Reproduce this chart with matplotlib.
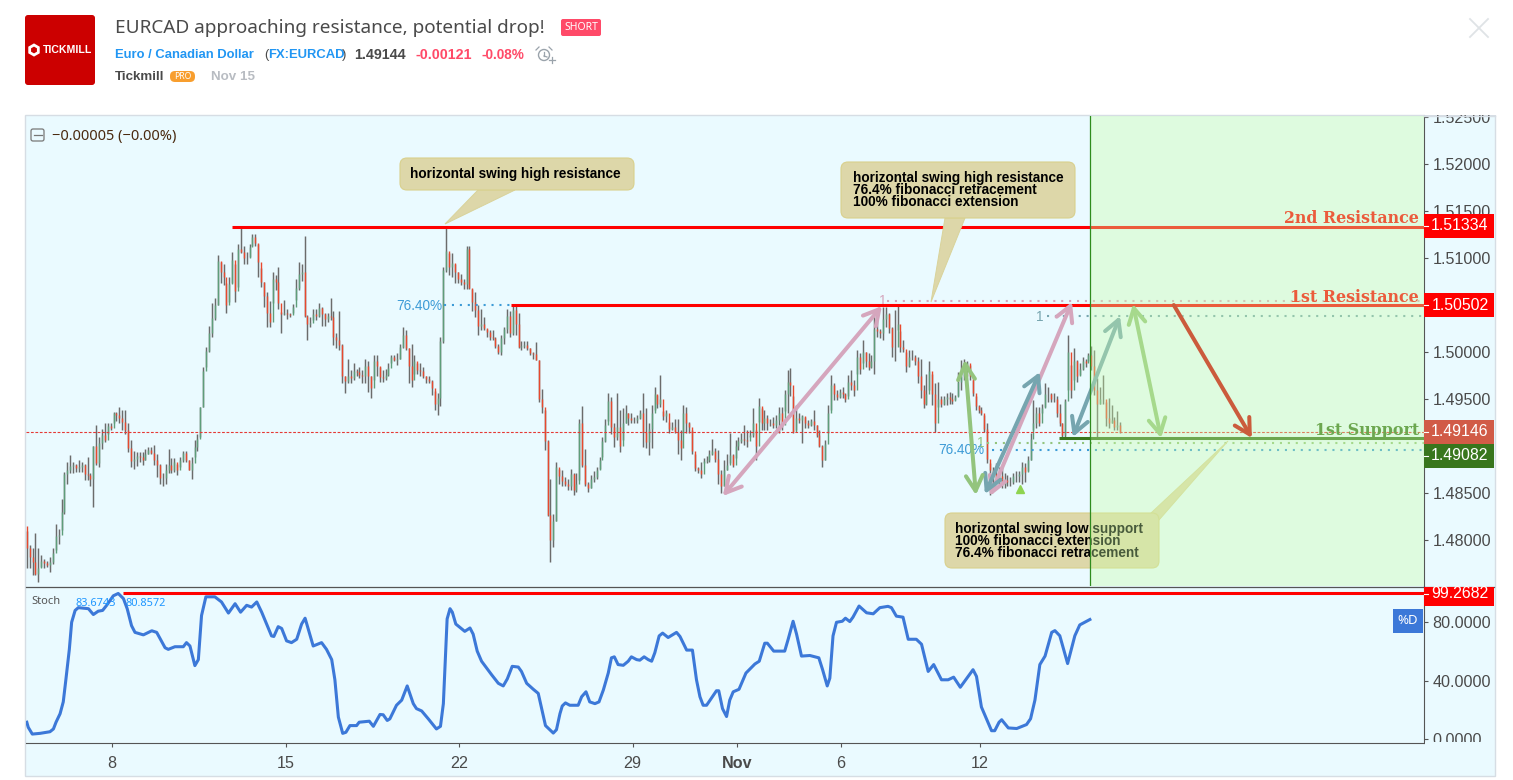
import numpy as np
import matplotlib
matplotlib.use('Agg')
import matplotlib.pyplot as plt
from matplotlib.patches import Rectangle, FancyBboxPatch, Polygon, Circle, RegularPolygon
from matplotlib.lines import Line2D
from matplotlib.transforms import Affine2D

plt.rcParams['font.family'] = 'Liberation Sans'

# 2h EURCAD bars, prices in 1/10000, one row = one trading day
bar_high = [
    14810,14795,14792,14807,14792,14784,14780,14778,14782,14791,14817,14812,
    14844,14872,14883,14890,14883,14881,14885,14883,14881,14888,14871,14900,
    14922,14910,14918,14924,14924,14924,14936,14936,14941,14938,14938,14924,
    14906,14895,14894,14894,14894,14897,14899,14899,14901,14892,14881,14871,
    14881,14897,14887,14887,14881,14888,14895,14895,14885,14888,14906,14913,
    14942,14984,15005,15028,15052,15057,15103,15096,15094,15073,15080,15106,
    15094,15115,15133,15113,15106,15115,15126,15126,15115,15089,15075,15064,
    15054,15085,15082,15090,15043,15055,15046,15042,15051,15078,15096,15094,
    15123,15039,15037,15046,15046,15052,15048,15041,15041,15057,15044,15020,
    15044,15009,14974,14993,14981,14988,14982,14984,14981,14993,14990,14974,
    14997,14997,14984,14981,14982,14988,14997,14997,14999,15009,15027,15023,
    15004,15009,14997,14988,14988,14984,14975,14974,14970,14959,14956,15016,
    15090,15133,15105,15105,15094,15085,15083,15078,15113,15113,15067,15064,
    15050,15046,15037,15025,15023,15023,15016,15009,15018,15027,15046,15044,
    15050,15051,15041,15012,15012,15012,15004,15000,15011,14991,14961,14938,
    14906,14865,14828,14883,14876,14874,14867,14865,14876,14871,14871,14929,
    14943,14897,14862,14869,14873,14878,14888,14910,14929,14956,14952,14925,
    14956,14938,14940,14944,14935,14935,14931,14933,14938,14956,14940,14924,
    14944,14963,14954,14976,14937,14938,14926,14926,14929,14929,14917,14944,
    14942,14926,14917,14892,14878,14883,14887,14889,14896,14908,14898,14896,
    14874,14885,14892,14914,14892,14906,14910,14914,14922,14917,14917,14940,
    14917,14951,14940,14938,14933,14929,14931,14933,14942,14942,14960,14981,
    14983,14953,14944,14935,14933,14931,14928,14929,14938,14922,14917,14901,
    14906,14944,14976,14967,14960,14961,14963,14956,14976,14981,14970,15002,
    14999,15013,15000,14999,14997,15038,15041,15025,15048,15048,15041,15027,
    15045,15050,15022,15013,15000,15002,15002,14997,14995,14993,14965,14977,
    14990,14977,14967,14968,14953,14953,14956,14958,14956,14954,14979,14991,
    14993,14990,14986,14970,14953,14944,14942,14933,14924,14882,14878,14882,
    14878,14878,14871,14869,14867,14871,14873,14873,14883,14882,14889,14914,
    14949,14942,14942,14945,14967,14963,14956,14956,14953,14945,14924,14950,
    15018,14986,15004,14991,14988,14995,14993,14999,15006,15002,14972,14963,
    14976,14947,14951,14944,14931,14937,14926,
]
bar_low = [
    14770,14770,14763,14763,14755,14771,14770,14771,14766,14775,14789,14796,
    14811,14828,14860,14871,14871,14872,14872,14872,14864,14864,14857,14835,
    14880,14878,14897,14904,14913,14917,14925,14927,14925,14917,14913,14894,
    14878,14876,14879,14883,14880,14885,14892,14892,14880,14867,14860,14857,
    14860,14871,14871,14872,14869,14878,14883,14883,14874,14865,14888,14895,
    14910,14941,14984,15000,15016,15034,15050,15073,15071,15041,15053,15073,
    15053,15069,15105,15094,15094,15101,15113,15113,15080,15069,15048,15027,
    15027,15052,15066,15046,15020,15039,15035,15037,15041,15055,15066,15076,
    15037,15013,15027,15034,15034,15037,15028,15028,15032,15034,15007,15004,
    15002,14967,14956,14967,14967,14970,14974,14972,14967,14967,14958,14951,
    14970,14974,14968,14968,14970,14974,14988,14990,14986,14993,15004,15002,
    14967,14963,14977,14977,14975,14972,14967,14967,14954,14938,14933,14943,
    15010,15085,15082,15080,15073,15073,15071,15067,15067,15067,15044,15037,
    15018,15023,15023,15016,15013,15013,15004,14998,14997,15009,15020,15016,
    15018,15018,15004,15002,15004,15002,14997,14993,14991,14947,14935,14896,
    14826,14777,14793,14820,14860,14857,14857,14853,14853,14848,14851,14864,
    14878,14857,14851,14855,14862,14865,14876,14888,14904,14927,14913,14899,
    14906,14894,14906,14924,14922,14924,14924,14924,14929,14899,14898,14890,
    14898,14938,14940,14942,14928,14926,14914,14917,14914,14892,14885,14914,
    14914,14914,14892,14873,14871,14866,14882,14882,14883,14890,14883,14860,
    14850,14857,14875,14882,14878,14887,14896,14903,14901,14899,14910,14910,
    14885,14926,14917,14917,14917,14921,14919,14919,14914,14917,14937,14935,
    14953,14914,14917,14924,14903,14919,14919,14921,14917,14910,14899,14878,
    14885,14914,14938,14949,14949,14951,14951,14947,14953,14960,14953,14977,
    14977,14988,14984,14981,14983,14977,15016,15015,15013,15027,15020,14995,
    14990,15023,15000,15000,14979,14984,14992,14986,14967,14951,14940,14944,
    14960,14944,14915,14942,14942,14944,14944,14945,14945,14949,14953,14960,
    14970,14974,14970,14953,14938,14935,14933,14915,14882,14848,14857,14860,
    14857,14855,14855,14857,14857,14860,14862,14862,14860,14862,14873,14885,
    14917,14919,14921,14935,14942,14947,14947,14947,14931,14921,14910,14908,
    14960,14951,14970,14968,14976,14981,14984,14990,14981,14954,14908,14945,
    14945,14921,14919,14924,14917,14917,14914,
]
bar_close = [
    14791,14782,14777,14764,14770,14778,14776,14773,14777,14786,14804,14805,
    14830,14870,14875,14879,14880,14877,14878,14880,14870,14869,14865,14900,
    14882,14903,14912,14906,14921,14919,14935,14933,14930,14926,14917,14898,
    14884,14886,14889,14888,14885,14892,14896,14893,14885,14880,14866,14866,
    14875,14880,14875,14883,14874,14885,14893,14885,14875,14882,14899,14908,
    14942,14980,15001,15020,15036,15050,15097,15085,15080,15050,15072,15098,
    15065,15110,15106,15100,15100,15112,15122,15116,15096,15075,15060,15042,
    15032,15078,15075,15052,15040,15041,15040,15039,15048,15068,15083,15085,
    15038,15030,15031,15040,15038,15047,15040,15035,15038,15037,15016,15013,
    15008,14975,14969,14975,14972,14980,14979,14976,14975,14985,14975,14962,
    14990,14985,14973,14972,14976,14983,14995,14992,14993,15005,15018,15004,
    14985,14970,14990,14981,14980,14974,14971,14969,14962,14945,14951,15012,
    15087,15107,15090,15095,15085,15078,15075,15072,15110,15068,15053,15045,
    15028,15030,15026,15021,15016,15015,15006,15000,15015,15024,15038,15020,
    15045,15030,15005,15006,15008,15004,14999,14998,14992,14950,14941,14905,
    14827,14800,14820,14878,14868,14863,14860,14858,14870,14853,14860,14925,
    14880,14860,14855,14865,14867,14875,14885,14905,14922,14948,14920,14910,
    14920,14900,14925,14935,14930,14928,14928,14930,14935,14915,14904,14918,
    14935,14955,14945,14950,14932,14935,14918,14920,14915,14906,14898,14935,
    14925,14920,14895,14877,14875,14870,14884,14885,14892,14895,14886,14870,
    14858,14875,14880,14890,14880,14900,14905,14908,14906,14905,14912,14925,
    14900,14943,14925,14930,14925,14925,14922,14928,14935,14922,14955,14968,
    14965,14915,14930,14928,14932,14925,14922,14927,14922,14912,14900,14885,
    14902,14935,14965,14955,14952,14958,14955,14950,14968,14965,14960,14995,
    14982,15000,14990,14984,14990,15025,15022,15020,15035,15040,15026,15005,
    15005,15030,15005,15003,14985,14995,14995,14990,14975,14960,14945,14955,
    14980,14955,14925,14950,14945,14950,14952,14950,14948,14952,14968,14975,
    14985,14988,14975,14956,14943,14938,14935,14918,14886,14875,14870,14866,
    14868,14860,14864,14862,14862,14868,14868,14870,14878,14872,14885,14908,
    14925,14935,14925,14940,14955,14955,14950,14950,14935,14925,14912,14948,
    15000,14960,14990,14975,14982,14990,14988,14997,14985,14960,14945,14950,
    14950,14930,14925,14928,14920,14922,14915,
]
first_open = 14815

stoch_bar = [
    0,0.5,1.9,4.6,8.0,9.2,10.1,11.5,12.6,13.5,14.7,15.5,16.7,17.8,21.3,23.0,24.7,26.2,27.6,29.9,
    31.6,33.4,34.7,36.2,37.4,40.3,43.2,44.9,47.8,48.9,51.2,54.1,55.2,56.4,58.1,59.3,60.4,61.9,65.0,67.3,
    69.7,72.0,73.9,76.0,77.7,79.5,81.2,82.9,84.6,85.4,86.9,88.1,89.8,91.5,93.3,95.0,96.2,99.0,101.9,103.6,
    105.4,106.5,107.7,109.2,110.3,111.7,114.0,114.9,118.4,119.8,122.1,123.2,124.6,125.5,127.8,129.6,131.5,133.6,134.7,136.5,
    138.8,141.6,143.0,144.0,145.3,146.3,147.1,148.3,151.4,153.2,154.3,155.7,157.2,160.7,163.0,164.7,166.1,167.8,169.9,171.0,
    172.8,175.1,176.8,178.0,179.3,182.0,183.1,184.3,185.1,186.2,187.7,190.6,191.8,193.3,194.6,196.4,197.8,199.3,201.0,202.1,
    203.1,204.4,206.2,207.9,209.0,210.8,211.9,213.4,214.8,216.0,217.1,218.6,219.8,221.7,224.6,225.8,228.1,230.1,231.5,232.7,
    233.8,235.0,238.4,239.2,240.5,241.9,243.0,244.2,246.2,248.6,251.7,253.2,255.1,256.0,258.2,262.0,263.2,264.9,266.1,267.8,
    270.7,273.8,275.1,276.7,277.6,278.7,279.9,281.9,283.0,284.5,285.6,287.7,290.3,292.6,294.9,297.7,298.9,300.6,302.9,304.7,
    307.5,309.3,311.6,313.5,316.2,318.5,320.4,322.7,327.1,328.3,330.0,333.5,334.6,336.1,337.0,339.3,342.2,345.6,347.0,348.5,
    350.2,352.0,354.3,355.4,357.1,359.8,362.3,364.0,367.5,
]
stoch_val = [
    11.8,8.3,3.7,4.2,5.3,7.2,11.8,17.6,25.7,40.8,61.6,80.1,88.2,90.1,89.4,85.4,87.7,88.2,91.7,98.2,
    99.8,96.3,89.4,77.8,73.2,71.5,74.3,73.2,62.7,61.6,63.4,63.4,66.2,63.9,50.5,54.6,84.7,97.5,97.5,94.0,
    86.4,92.8,87.0,91.7,90.5,94.0,87.0,78.9,70.8,70.4,77.1,75.9,67.4,66.2,68.5,78.9,82.9,63.9,66.2,61.6,
    54.6,40.8,15.3,4.2,4.9,9.5,9.5,11.8,12.5,9.0,17.1,16.9,13.0,14.1,23.4,26.9,36.6,24.5,21.1,19.5,
    14.1,7.2,9.0,24.5,82.4,89.4,87.0,78.9,73.9,76.2,72.0,60.4,53.5,44.2,38.4,36.6,41.4,50.0,49.5,46.5,
    38.4,34.3,31.5,21.1,9.5,4.4,6.7,17.6,22.9,25.0,23.4,23.4,29.2,32.6,25.7,24.5,25.7,33.8,45.4,55.8,
    56.5,51.2,50.7,53.5,56.5,54.6,54.2,56.5,54.6,53.5,59.3,70.8,72.7,69.7,73.2,70.4,61.1,61.1,40.8,29.2,
    23.4,23.4,33.3,33.3,21.1,15.7,26.9,32.6,34.3,45.4,51.6,53.5,65.8,65.8,60.4,60.4,68.5,80.8,72.0,57.0,
    57.4,55.8,47.7,36.6,41.9,70.8,80.1,80.8,82.9,80.6,83.6,91.2,86.6,85.9,90.1,91.0,90.1,84.3,83.6,68.5,
    68.5,65.1,46.5,51.2,40.8,40.8,42.6,35.7,47.7,43.1,22.2,6.0,6.0,11.8,13.5,7.9,7.5,10.2,14.2,26.9,
    51.2,57.0,73.2,74.4,70.9,51.9,70.9,78.3,82.0,
]

price_ticks = [1.48, 1.485, 1.49, 1.495, 1.50, 1.505, 1.51, 1.515, 1.52, 1.525]
stoch_ticks = [0, 40, 80]
day_ticks = [29.45, 89.45, 149.45, 209.45, 245.45, 281.45, 329.45]
day_labels = ['8', '15', '22', '29', 'Nov', '6', '12']

levels = [1.51334, 1.50502, 1.49082]
current_price = 1.49146
stoch_level = 99.2682

GRAY = '#4a4a4a'
BG = '#eafaff'
px = Affine2D().scale(1, -1).translate(0, 780)  # page pixels, y down

fig = plt.figure(figsize=(15.13, 7.80), dpi=100, facecolor='white')
fig.add_artist(Rectangle((25, 115), 1470, 661, transform=px, fc=BG, ec='#d6dde4', lw=1, zorder=-1))

ax = fig.add_axes([26/1513, 1-586/780, 1398/1513, 470/780])
ax2 = fig.add_axes([26/1513, 1-743/780, 1398/1513, 157/780])
xlim = (-0.28, 483.0)
for a in (ax, ax2):
    a.patch.set_visible(False)
    a.set_xlim(*xlim)
    for s in ('left', 'top', 'bottom', 'right'):
        a.spines[s].set_visible(False)
    a.spines['right'].set_visible(True)
    a.spines['right'].set_color('#555555')
    a.yaxis.tick_right()
    a.tick_params(axis='y', length=3, width=0.8, color='#555555', labelcolor=GRAY, labelsize=11.6, pad=3)
ax.set_ylim(1.47511, 1.52511)
ax.set_xticks([])
ax.set_yticks(price_ticks)
ax.set_yticklabels(['%.5f' % t for t in price_ticks])

# bars
x = np.arange(len(bar_close))
close = np.array(bar_close) / 1e4
high = np.array(bar_high) / 1e4
low = np.array(bar_low) / 1e4
opn = np.r_[first_open / 1e4, close[:-1]]
ax.vlines(x, low, high, color='#6b6b6b', lw=1.05, zorder=2)
up = close >= opn
ax.vlines(x[up], opn[up], close[up], color='#5e9e7a', lw=1.0, zorder=3)
ax.vlines(x[~up], opn[~up], close[~up], color='#e8492e', lw=1.0, zorder=3)

ax.axhline(current_price, color='#e53935', lw=0.8, ls=(0, (2.5, 1.5)), zorder=4)

# horizontal levels
ax.plot([70.9, 483], [levels[0]] * 2, color='#ff0000', lw=2.2, solid_capstyle='butt', zorder=5)
ax.plot([167.4, 483], [levels[1]] * 2, color='#ff0000', lw=2.2, solid_capstyle='butt', zorder=5)
ax.plot([356.8, 483], [levels[2]] * 2, color='#38761d', lw=2.2, solid_capstyle='butt', zorder=5)

# fib dots
fibs = [
    (297.3, 1.50543, '#d5a6bd'), (352.6, 1.50383, '#76a5af'), (331.9, 1.49035, '#93c47d'),
    (333.6, 1.48963, '#3d9bd6'),
]
for start, lvl, col in fibs:
    ax.plot([start, 483], [lvl, lvl], color=col, lw=1.5, ls=(0, (1, 2.8)), zorder=4)
ax.plot([144.2, 167.4], [1.50497, 1.50497], color='#3d9bd6', lw=1.5, ls=(0, (1, 2.8)), zorder=4)
for xp, yp, s, col in [(396, 306, '76.40%', '#3d9bd6'), (883, 301, '1', '#d5a6bd'), (1040, 317, '1', '#76a5af'),
                       (981, 443, '1', '#93c47d'), (938, 450, '76.40%', '#3d9bd6')]:
    ax.text(xp, yp, s, transform=px, color=col, fontsize=9.8, ha='left' if s != '1' else 'center', va='center', zorder=4)

# arrows
arrows = [
    ((240.6, 1.48468), (295.6, 1.50489), '#d5a6bd', '<->'),
    ((333.0, 1.48468), (361.3, 1.50532), '#d5a6bd', '<->'),
    ((331.2, 1.48489), (350.2, 1.49787), '#76a5af', '<->'),
    ((361.6, 1.49096), (377.9, 1.50383), '#76a5af', '<->'),
    ((324.3, 1.49915), (328.1, 1.48479), '#93c47d', '<->'),
    ((382.4, 1.50510), (392.1, 1.49085), '#93c47d', '<->'),
    ((396.5, 1.50500), (423.5, 1.49085), '#cc0000', '->'),
]
for a, b, col, style in arrows:
    ax.annotate('', xy=b, xytext=a, zorder=6, annotation_clip=False,
                arrowprops=dict(arrowstyle=style + ',head_length=1.0,head_width=0.55', mutation_scale=11,
                                color=col, lw=2.9, shrinkA=0, shrinkB=0))
ax.plot([343.3], [1.48543], marker='^', ms=6, color='#8fd450', ls='none', zorder=6)

# callouts
callouts = [
    ((400, 158, 234, 32), [(445, 224), (478, 190), (515, 190)], ['horizontal swing high resistance'], 410, 174),
    ((841, 162, 234, 56), [(945, 218), (965, 218), (931, 302)],
     ['horizontal swing high resistance', '76.4% fibonacci retracement', '100% fibonacci extension'], 853, 178),
    ((945, 513, 214, 55), [(1151, 513), (1159, 520), (1228, 441)],
     ['horizontal swing low support', '100% fibonacci extension', '76.4% fibonacci retracement'], 955, 529),
]
for (bx, by, bw, bh), tail, lines, tx, ty in callouts:
    ax.add_patch(Polygon(tail, closed=True, transform=px, fc='#ddd7a9', ec='#d9d39a', lw=0.7, zorder=7))
    ax.add_patch(FancyBboxPatch((bx, by), bw, bh, boxstyle='round,pad=0,rounding_size=7', transform=px,
                                fc='#ddd7a9', ec='#d9d08c', lw=0.8, zorder=7))
    for k, line in enumerate(lines):
        ax.text(tx, ty + 12 * k, line, transform=px, fontweight='bold', fontsize=9.8,
                color='black', va='center', ha='left', zorder=8)

# level captions
for s, yb, col in [('2nd Resistance', 223, '#ff0000'), ('1st Resistance', 302, '#ff0000'), ('1st Support', 435, '#38761d')]:
    ax.text(1419, yb, s, transform=px, family='DejaVu Serif', fontsize=11.4, fontweight='bold', color=col,
            ha='right', va='baseline', zorder=8)

# future zone on top of everything in the pane
ax.axvspan(367.5, 483, color='#caffa8', alpha=0.36, lw=0, zorder=10)
ax.axvline(367.5, color='#2e8b1e', lw=0.9, zorder=11)

ax.text(52, 136.5, '\u22120.00005 (\u22120.00%)', transform=px, family='Noto Sans', fontsize=10.5, color='#4a2a10',
        ha='left', va='center', zorder=12)
ax.add_patch(FancyBboxPatch((31, 129), 13, 12, boxstyle='round,pad=0,rounding_size=2', transform=px, fc='none',
                            ec='#777777', lw=0.9, zorder=12))
ax.plot([33.5, 41.5], [135, 135], transform=px, color='#777777', lw=0.9, zorder=12)

# stochastic pane
ax2.set_ylim(-2.4, 104.9)
ax2.plot(stoch_bar, stoch_val, color='#3c78d8', lw=2.2, zorder=3)
ax2.plot([33.3, 483], [100.3, 100.3], color='#ff0000', lw=2.2, solid_capstyle='butt', zorder=4)
ax2.spines['bottom'].set_visible(True)
ax2.spines['bottom'].set_color('#555555')
ax2.set_yticks(stoch_ticks)
ax2.set_yticklabels(['%.4f' % t for t in stoch_ticks])
ax2.set_xticks(day_ticks)
ax2.set_xticklabels(day_labels)
ax2.tick_params(axis='x', length=3, width=0.8, color='#555555', labelcolor=GRAY, labelsize=11.6, pad=6)
ax2.get_xticklabels()[4].set_fontweight('bold')
ax2.text(31, 602, 'Stoch', transform=px, family='Noto Sans', fontsize=8, color='#555555', va='center')
ax2.text(75, 603, '83.6743', transform=px, family='Noto Sans', fontsize=7.9, color='#1e96ff', va='center')
ax2.text(126, 603, '80.8572', transform=px, family='Noto Sans', fontsize=7.9, color='#1e96ff', va='center')

# covers that clip the right scale labels
fig.add_artist(Rectangle((1425, 100), 72, 15, transform=px, fc='white', ec='none', zorder=5))
fig.add_artist(Line2D([1424, 1495], [115.5, 115.5], transform=px, color='#d6dde4', lw=1, zorder=5))
fig.add_artist(Rectangle((1425, 742), 69, 14, transform=px, fc=BG, ec='none', zorder=5))
fig.add_artist(Line2D([26, 1494], [586.5, 586.5], transform=px, color='#555555', lw=0.9, zorder=5))

# price labels on the scale
labels = [
    (214, 24, '#ff0000', '1.51334'), (293, 24, '#ff0000', '1.50502'), (420, 24, '#d15b47', '1.49146'),
    (444, 24, '#38761d', '1.49082'), (587, 19, '#ff0000', '99.2682'),
]
for top, h, col, s in labels:
    fig.add_artist(Rectangle((1424, top), 70, h, transform=px, fc=col, ec='none', zorder=6))
    yc = top + h / 2 if s != '99.2682' else 594
    fig.text(1460, yc, s, transform=px, color='white', fontsize=11.4, ha='center', va='center', zorder=7)
    fig.add_artist(Line2D([1424, 1428], [yc, yc], transform=px, color='white', lw=0.8, zorder=7))
fig.add_artist(Rectangle((1393, 609), 30, 24, transform=px, fc='#3c78d8', ec='none', zorder=6))
fig.text(1408, 621, '%D', transform=px, color='white', family='Noto Sans', fontsize=9.5, ha='center', va='center', zorder=7)

# header
fig.add_artist(FancyBboxPatch((25, 15), 70, 70, boxstyle='round,pad=0,rounding_size=3', transform=px,
                              fc='#cc0000', ec='none'))
fig.add_artist(RegularPolygon((34, 50), 6, radius=5, transform=px, fc='none', ec='white', lw=2))
fig.text(43, 50, 'TICKMILL', transform=px, color='white', fontweight='bold', fontsize=7.6, va='center')
fig.text(115, 28, 'EURCAD approaching resistance, potential drop!', transform=px, family='Noto Sans', fontsize=13.66,
         color=GRAY, va='center')
fig.add_artist(FancyBboxPatch((561, 19), 40, 17, boxstyle='round,pad=0,rounding_size=2', transform=px, fc='#ff4a68', ec='none'))
fig.text(581, 27.5, 'SHORT', transform=px, family='Noto Sans', fontsize=7.5, color='white', ha='center', va='center')
fig.text(115, 55, 'Euro / Canadian Dollar', transform=px, fontweight='bold', fontsize=9.4, color='#2196f3', va='center')
fig.text(264, 55, '(', transform=px, fontsize=9.4, color=GRAY, va='center')
fig.text(268, 55, 'FX:EURCAD', transform=px, fontweight='bold', fontsize=9.4, color='#2196f3', va='center')
fig.text(342, 55, ')', transform=px, fontsize=9.4, color=GRAY, va='center')
fig.text(354, 55, '1.49144', transform=px, fontweight='bold', fontsize=10.3, color=GRAY, va='center')
fig.text(415, 55, '-0.00121', transform=px, fontweight='bold', fontsize=10.3, color='#ff4a68', va='center')
fig.text(481, 55, '-0.08%', transform=px, fontweight='bold', fontsize=9.8, color='#ff4a68', va='center')
fig.add_artist(Circle((544, 55), 5.5, transform=px, fc='none', ec='#9aa3ab', lw=1))
for seg in [((539, 47), (536, 50)), ((549, 47), (552, 50)), ((544, 52), (544, 56)), ((544, 56), (547, 57)), ((552, 57), (552, 63)), ((549, 60), (555, 60))]:
    fig.add_artist(Line2D([seg[0][0], seg[1][0]], [seg[0][1], seg[1][1]], transform=px, color='#9aa3ab', lw=0.9))
fig.text(115, 76.5, 'Tickmill', transform=px, fontweight='bold', fontsize=9.6, color=GRAY, va='center')
fig.add_artist(FancyBboxPatch((170, 71), 25, 11, boxstyle='round,pad=0,rounding_size=5', transform=px, fc='#f89e2e', ec='none'))
fig.text(182.5, 76.5, 'PRO', transform=px, family='Noto Sans', fontsize=6.2, color='white', ha='center', va='center')
fig.text(211, 76.5, 'Nov 15', transform=px, fontweight='bold', fontsize=9.6, color='#b8bcc2', va='center')
for seg in [((1470, 19), (1488, 37)), ((1488, 19), (1470, 37))]:
    fig.add_artist(Line2D([seg[0][0], seg[1][0]], [seg[0][1], seg[1][1]], transform=px, color='#dfe3e6', lw=1.3))

fig.savefig('out.png', dpi=100)
